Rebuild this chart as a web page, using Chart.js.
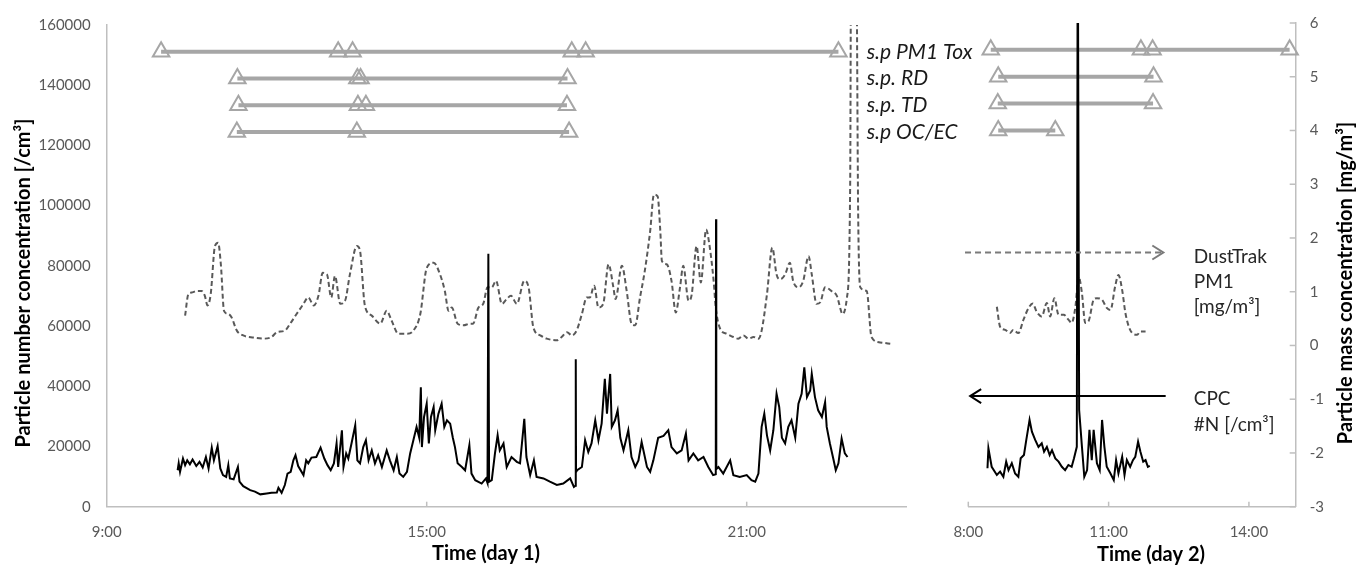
<!DOCTYPE html>
<html>
<head>
<meta charset="utf-8">
<script src="https://cdn.jsdelivr.net/npm/chart.js@4.4.1/dist/chart.umd.min.js"></script>
<style>
  body { margin: 0; background: #fff; }
  #wrap { position: relative; width: 1357px; height: 565px; }
  #wrap canvas { position: absolute; left: 0; top: 0; }
</style>
</head>
<body>
<div id="wrap">
  <canvas id="day1" width="1357" height="565"></canvas>
  <canvas id="day2" width="1357" height="565"></canvas>
</div>
<script>
// all times are decimal hours of the day
const day1Ticks = [9, 15, 21];
const day2Ticks = [8, 11, 14];

// sampling periods, drawn on the mass axis at fixed levels
const samplingLabels = ['s.p PM1 Tox', 's.p. RD', 's.p. TD', 's.p OC/EC'];
const samplingLevel = [5.5, 5, 4.5, 4];
const samplingDay1 = [
  [10.02, 13.34, 13.61, 17.72, 17.98, 22.72],
  [11.45, 13.70, 13.76, 17.64],
  [11.47, 13.71, 13.86, 17.63],
  [11.44, 13.69, 17.67]
];
const samplingDay2 = [
  [8.48, 11.69, 11.94, 14.87],
  [8.64, 11.96],
  [8.63, 11.95],
  [8.64, 9.86]
];

// CPC number concentration [/cm3], day 1
const cpcDay1Time = [10.33, 10.35, 10.375, 10.43, 10.47, 10.51, 10.56, 10.61, 10.68, 10.74, 10.80, 10.86, 10.91, 10.97, 11.01, 11.08, 11.13, 11.18, 11.24, 11.28,
  11.31, 11.38, 11.46, 11.49, 11.56, 11.69, 11.78, 11.88, 12.00, 12.09, 12.19, 12.22, 12.28, 12.34, 12.39, 12.45, 12.50, 12.54, 12.59, 12.69,
  12.74, 12.78, 12.84, 12.93, 13.01, 13.08, 13.14, 13.20, 13.26, 13.31, 13.34, 13.41, 13.44, 13.49, 13.53, 13.59, 13.66, 13.70, 13.75, 13.81,
  13.86, 13.91, 13.97, 14.03, 14.09, 14.16, 14.25, 14.31, 14.38, 14.44, 14.49, 14.56, 14.63, 14.69, 14.75, 14.81, 14.86, 14.89, 14.91, 14.95,
  15.00, 15.04, 15.08, 15.13, 15.16, 15.22, 15.28, 15.33, 15.38, 15.44, 15.49, 15.53, 15.58, 15.66, 15.72, 15.80, 15.84, 15.91, 16.03, 16.11,
  16.14, 16.156, 16.17, 16.22, 16.28, 16.33, 16.37, 16.44, 16.50, 16.59, 16.69, 16.75, 16.83, 16.87, 16.94, 17.01, 17.06, 17.19, 17.31, 17.44,
  17.56, 17.69, 17.76, 17.79, 17.795, 17.80, 17.82, 17.91, 17.97, 18.03, 18.09, 18.16, 18.22, 18.28, 18.34, 18.38, 18.44, 18.47, 18.53, 18.58, 18.63, 18.69,
  18.78, 18.84, 18.91, 18.97, 19.03, 19.13, 19.19, 19.25, 19.34, 19.44, 19.53, 19.59, 19.69, 19.78, 19.86, 19.91, 20.00, 20.09, 20.19, 20.28,
  20.37, 20.42, 20.425, 20.43, 20.47, 20.56, 20.69, 20.75, 20.87, 21.00, 21.09, 21.16, 21.22, 21.28, 21.33, 21.38, 21.44, 21.50, 21.56, 21.61, 21.66, 21.72,
  21.78, 21.84, 21.91, 21.97, 22.03, 22.08, 22.13, 22.19, 22.22, 22.28, 22.34, 22.41, 22.47, 22.50, 22.56, 22.63, 22.67, 22.72, 22.78, 22.84, 22.89];
const cpcDay1Value = [12100, 14400, 11600, 16000, 13800, 15400, 14100, 15700, 13500, 14900, 13000, 16500, 12700, 19600, 15400, 20100, 12700, 10500, 9900, 13800,
  9400, 9100, 13200, 8300, 6800, 5500, 5000, 4100, 4400, 4600, 4700, 6300, 4600, 7200, 11000, 11600, 15400, 17100, 13500, 10500,
  15400, 14400, 16300, 16500, 19600, 16000, 13800, 12100, 14400, 21000, 13200, 25400, 13200, 17700, 16000, 21000, 27000, 15400, 14400, 19800,
  22100, 15400, 18700, 14400, 17100, 13200, 18700, 15400, 12100, 16500, 11000, 9900, 11600, 17700, 22100, 26500, 22900, 39700, 19800, 29800,
  34200, 21000, 29800, 33100, 25400, 30900, 34200, 26500, 28700, 27600, 22900, 19800, 14400, 13200, 12100, 20400, 11000, 8800, 7700, 9400,
  7900, 84000, 8300, 8800, 17700, 23700, 18700, 21000, 13200, 16500, 14900, 14400, 29200, 16500, 10500, 15400, 9900, 9400, 8300, 7200,
  7700, 9400, 6600, 7000, 49000, 11500, 12100, 13200, 22100, 18200, 21000, 28700, 22100, 27600, 42500, 30900, 44100, 26500, 28700, 32000, 22900, 18700,
  25400, 16500, 13200, 15400, 21500, 13200, 11600, 15400, 22900, 23500, 25400, 19800, 17700, 18700, 24300, 15400, 17700, 15400, 16500, 13200,
  10500, 10800, 95500, 12500, 13200, 11000, 15400, 10500, 9900, 10500, 8800, 8300, 11000, 26500, 30900, 23700, 18700, 25400, 37500, 33100, 22900, 21000,
  26500, 28700, 22900, 34200, 37500, 46300, 36400, 38600, 44100, 36400, 32000, 29800, 34700, 26500, 21000, 15400, 12100, 14400, 22600, 17700, 16500];

// CPC number concentration [/cm3], day 2 (the 10:20 spike runs off the top)
const cpcDay2Time = [8.41, 8.43, 8.50, 8.61, 8.68, 8.75, 8.81, 8.86, 8.93, 9.00, 9.07, 9.12, 9.19, 9.24, 9.31, 9.36, 9.43, 9.50, 9.57, 9.62,
  9.68, 9.74, 9.79, 9.86, 9.93, 10.00, 10.07, 10.14, 10.21, 10.26, 10.32, 10.34, 10.37, 10.43, 10.48, 10.54, 10.59, 10.64, 10.68, 10.75,
  10.81, 10.86, 10.91, 10.96, 11.04, 11.11, 11.16, 11.21, 11.29, 11.34, 11.39, 11.46, 11.52, 11.57, 11.63, 11.68, 11.74, 11.79, 11.84, 11.88];
const cpcDay2Value = [12700, 19300, 13200, 10500, 11600, 9900, 14900, 12100, 14400, 11000, 9900, 16000, 17100, 22100, 28700, 24800, 22100, 19800, 21000, 18200,
  19800, 17100, 18700, 16000, 14900, 13200, 12100, 13800, 13200, 16000, 19800, 200000, 32000, 19800, 9900, 12100, 25400, 15400, 25400, 14400,
  12100, 28700, 19800, 13200, 11000, 8800, 15400, 11000, 16500, 10500, 15400, 13200, 15400, 16500, 21500, 18200, 14900, 15400, 13200, 13500];

// DustTrak PM1 mass concentration [mg/m3]
const dustDay1Time = [10.47, 10.53, 10.59, 10.69, 10.78, 10.84, 10.89, 10.95, 11.03, 11.09, 11.14, 11.20, 11.28, 11.34, 11.44, 11.56, 11.75, 11.94, 12.09, 12.19,
  12.34, 12.44, 12.56, 12.69, 12.78, 12.88, 12.97, 13.05, 13.13, 13.21, 13.28, 13.38, 13.47, 13.56, 13.69, 13.75, 13.84, 13.97, 14.13, 14.25,
  14.34, 14.47, 14.63, 14.75, 14.88, 15.00, 15.13, 15.25, 15.34, 15.41, 15.47, 15.58, 15.69, 15.81, 15.87, 15.97, 16.06, 16.14, 16.22, 16.30,
  16.41, 16.50, 16.58, 16.69, 16.83, 16.91, 17.00, 17.13, 17.25, 17.44, 17.53, 17.63, 17.72, 17.81, 17.91, 18.00, 18.06, 18.14, 18.22, 18.31,
  18.41, 18.50, 18.54, 18.66, 18.75, 18.84, 18.91, 19.00, 19.09, 19.19, 19.26, 19.33, 19.38, 19.41, 19.50, 19.59, 19.67, 19.75, 19.81, 19.91,
  19.97, 20.06, 20.14, 20.24, 20.30, 20.38, 20.42, 20.50, 20.63, 20.75, 20.84, 20.94, 21.03, 21.13, 21.22, 21.28, 21.38, 21.48, 21.56, 21.63,
  21.72, 21.81, 21.87, 21.97, 22.06, 22.16, 22.22, 22.31, 22.38, 22.47, 22.59, 22.69, 22.80, 22.88, 22.94, 22.96, 23.05, 23.09, 23.13, 23.25,
  23.34, 23.50, 23.72];
const dustDay1Value = [0.57, 0.97, 1.00, 1.03, 1.03, 0.94, 0.76, 0.97, 1.87, 1.93, 1.53, 0.66, 0.60, 0.54, 0.29, 0.20, 0.16, 0.14, 0.17, 0.26,
  0.29, 0.42, 0.60, 0.79, 0.91, 0.76, 0.94, 1.37, 1.34, 0.91, 1.31, 0.79, 0.85, 1.34, 1.87, 1.78, 0.76, 0.57, 0.42, 0.66,
  0.48, 0.23, 0.23, 0.29, 0.60, 1.46, 1.56, 1.34, 1.03, 0.66, 0.72, 0.42, 0.39, 0.42, 0.42, 0.72, 0.79, 1.10, 1.10, 1.22,
  0.79, 0.88, 0.94, 0.79, 1.22, 1.10, 0.35, 0.20, 0.14, 0.11, 0.17, 0.26, 0.20, 0.29, 0.60, 0.91, 0.91, 1.13, 0.72, 0.79,
  1.53, 1.10, 0.88, 1.50, 1.03, 0.42, 0.39, 0.91, 1.41, 2.15, 2.83, 2.80, 2.15, 1.59, 1.53, 1.22, 0.63, 1.10, 1.50, 0.85,
  0.97, 1.87, 1.19, 2.18, 1.90, 1.22, 0.72, 0.33, 0.23, 0.17, 0.14, 0.20, 0.14, 0.17, 0.14, 0.29, 0.97, 1.84, 1.34, 1.25,
  1.34, 1.56, 1.22, 1.10, 1.22, 1.68, 1.34, 0.79, 0.82, 1.10, 1.03, 0.94, 0.60, 0.91, 3.00, 8.00, 8.00, 2.46, 1.10, 1.03,
  0.17, 0.07, 0.04];
const dustDay2Time = [8.61, 8.68, 8.79, 8.89, 8.96, 9.07, 9.18, 9.29, 9.38, 9.46, 9.57, 9.68, 9.75, 9.84, 9.93, 10.04, 10.14, 10.21, 10.29, 10.36,
  10.43, 10.50, 10.57, 10.68, 10.75, 10.86, 10.96, 11.04, 11.14, 11.21, 11.29, 11.36, 11.46, 11.61, 11.68, 11.79];
const dustDay2Value = [0.72, 0.35, 0.29, 0.23, 0.29, 0.23, 0.48, 0.70, 0.78, 0.63, 0.54, 0.79, 0.54, 0.88, 0.57, 0.57, 0.48, 0.42, 0.72, 1.28,
  0.97, 0.42, 0.45, 0.85, 0.88, 0.85, 0.70, 0.66, 1.10, 1.31, 1.03, 0.60, 0.29, 0.20, 0.26, 0.26];

const AXIS = '#bfbfbf';
const TICK_TEXT = '#595959';
Chart.defaults.font.family = 'Lato';

function pts(times, values) {
  return times.map((t, i) => ({ x: t, y: values[i] }));
}
function hhmm(v) {
  return Math.floor(v) + ':' + String(Math.round((v % 1) * 60)).padStart(2, '0');
}

function samplingSets(rows) {
  return rows.map((row, i) => ({
    label: samplingLabels[i],
    data: row.map(t => ({ x: t, y: samplingLevel[i] })),
    yAxisID: 'y1',
    borderColor: '#a6a6a6',
    borderWidth: 4,
    pointStyle: 'triangle',
    pointRadius: 9.5,
    pointBorderColor: '#a6a6a6',
    pointBorderWidth: 2,
    pointBackgroundColor: 'rgba(0,0,0,0)',
    clip: false,
    order: 2
  }));
}
function cpcSet(times, values) {
  return { label: 'CPC', data: pts(times, values), yAxisID: 'y', borderColor: '#000', borderWidth: 2,
    pointRadius: 0, tension: 0, order: 0 };
}
function dustSet(times, values) {
  return { label: 'DustTrak PM1', data: pts(times, values), yAxisID: 'y1', borderColor: '#595959', borderWidth: 2,
    borderDash: [5, 3], pointRadius: 0, cubicInterpolationMode: 'monotone', order: 1 };
}

function xAxis(min, max, tickList) {
  return {
    type: 'linear', min: min, max: max,
    afterBuildTicks: s => { s.ticks = tickList.map(v => ({ value: v })); },
    afterFit: s => { s.height = 58.3; },
    grid: { display: false, drawTicks: false },
    border: { color: AXIS, width: 1.5 },
    ticks: { padding: 16, color: TICK_TEXT, font: { size: 15 }, autoSkip: false, maxRotation: 0, callback: v => hhmm(v) }
  };
}
const numberAxis = { min: 0, max: 160000 };
const massAxis = { min: -3, max: 6 };

function line(ctx, x1, y1, x2, y2) {
  ctx.beginPath(); ctx.moveTo(x1, y1); ctx.lineTo(x2, y2); ctx.stroke();
}
function arrow(ctx, x1, y, x2, color, dash) {
  ctx.save();
  ctx.strokeStyle = color; ctx.lineWidth = 2; ctx.setLineDash(dash);
  line(ctx, x1, y, x2, y);
  ctx.setLineDash([]);
  const d = x2 > x1 ? -1 : 1;
  ctx.beginPath(); ctx.moveTo(x2 + d * 11, y - 7); ctx.lineTo(x2, y); ctx.lineTo(x2 + d * 11, y + 7); ctx.stroke();
  ctx.restore();
}
function vText(ctx, text, x, y) {
  ctx.save(); ctx.translate(x, y); ctx.rotate(-Math.PI / 2);
  ctx.textAlign = 'center'; ctx.textBaseline = 'middle'; ctx.fillText(text, 0, 0);
  ctx.restore();
}

const day1Extras = {
  id: 'day1Extras',
  afterDraw(chart) {
    const { ctx, chartArea: a, scales: { x, y1 } } = chart;
    ctx.save();
    ctx.strokeStyle = AXIS; ctx.lineWidth = 1.5;
    day1Ticks.slice(1).forEach(v => { const px = x.getPixelForValue(v); line(ctx, px, a.bottom, px, a.bottom - 5); });
    ctx.fillStyle = '#1a1a1a'; ctx.font = 'italic 21px Lato'; ctx.textAlign = 'left'; ctx.textBaseline = 'middle';
    samplingLabels.forEach((s, i) => ctx.fillText(s, x.getPixelForValue(23.25), y1.getPixelForValue(samplingLevel[i])));
    ctx.fillStyle = '#000'; ctx.font = 'bold 20px Lato';
    vText(ctx, 'Particle number concentration [/cm\u00b3]', 24, 283);
    ctx.textAlign = 'center'; ctx.textBaseline = 'middle';
    ctx.fillText('Time (day 1)', 486, 554);
    ctx.restore();
  }
};

const day2Extras = {
  id: 'day2Extras',
  afterDraw(chart) {
    const { ctx, chartArea: a, scales: { x, y, y1 } } = chart;
    ctx.save();
    ctx.strokeStyle = AXIS; ctx.lineWidth = 1.5;
    day2Ticks.forEach(v => { const px = x.getPixelForValue(v); line(ctx, px, a.bottom, px, a.bottom - 5); });
    y1.ticks.forEach(t => { const py = y1.getPixelForValue(t.value); line(ctx, a.right - 6, py, a.right, py); });
    // arrows pointing at the axis each series belongs to
    const dustY = y1.getPixelForValue(1.73);
    arrow(ctx, x.getPixelForValue(7.93), dustY, x.getPixelForValue(12.17), '#7a7a7a', [6, 4]);
    const cpcY = y.getPixelForValue(36600);
    arrow(ctx, x.getPixelForValue(12.22), cpcY, x.getPixelForValue(8.04), '#000', []);
    ctx.fillStyle = '#262626'; ctx.font = '19px Lato'; ctx.textAlign = 'left'; ctx.textBaseline = 'middle';
    const tx = x.getPixelForValue(12.82);
    ['DustTrak', 'PM1', '[mg/m\u00b3]'].forEach((s, i) => ctx.fillText(s, tx, dustY + 4 + i * 25));
    ['CPC', '#N [/cm\u00b3]'].forEach((s, i) => ctx.fillText(s, tx, cpcY + 3 + i * 26));
    ctx.fillStyle = '#000'; ctx.font = 'bold 20px Lato';
    vText(ctx, 'Particle mass concentration [mg/m\u00b3]', 1346, 283);
    ctx.textAlign = 'center';
    ctx.fillText('Time (day 2)', 1151, 555);
    ctx.restore();
  }
};

const common = {
  responsive: false,
  animation: false,
  plugins: { legend: { display: false }, tooltip: { enabled: false } }
};

new Chart(document.getElementById('day1'), {
  type: 'line',
  data: { datasets: [cpcSet(cpcDay1Time, cpcDay1Value), dustSet(dustDay1Time, dustDay1Value), ...samplingSets(samplingDay1)] },
  options: {
    ...common,
    layout: { padding: { top: 23, right: 450.3, left: 0, bottom: 0 } },
    scales: {
      x: xAxis(9, 24, day1Ticks),
      y: {
        position: 'left', ...numberAxis,
        afterFit: s => { s.width = 106.7; },
        grid: { display: false, drawTicks: false },
        border: { color: AXIS, width: 1.5 },
        ticks: { stepSize: 20000, padding: 16, color: TICK_TEXT, font: { size: 15 }, callback: v => v }
      },
      y1: { position: 'right', display: false, ...massAxis }
    }
  },
  plugins: [day1Extras]
});

new Chart(document.getElementById('day2'), {
  type: 'line',
  data: { datasets: [cpcSet(cpcDay2Time, cpcDay2Value), dustSet(dustDay2Time, dustDay2Value), ...samplingSets(samplingDay2)] },
  options: {
    ...common,
    layout: { padding: { top: 23, right: 0, left: 968.3, bottom: 0 } },
    scales: {
      x: xAxis(8, 15, day2Ticks),
      y: { position: 'left', display: false, ...numberAxis },
      y1: {
        position: 'right', ...massAxis,
        afterFit: s => { s.width = 61.3; },
        grid: { display: false, drawTicks: false },
        border: { color: AXIS, width: 1.5 },
        ticks: { stepSize: 1, padding: 14, color: TICK_TEXT, font: { size: 15 } }
      }
    }
  },
  plugins: [day2Extras]
});
</script>
</body>
</html>
